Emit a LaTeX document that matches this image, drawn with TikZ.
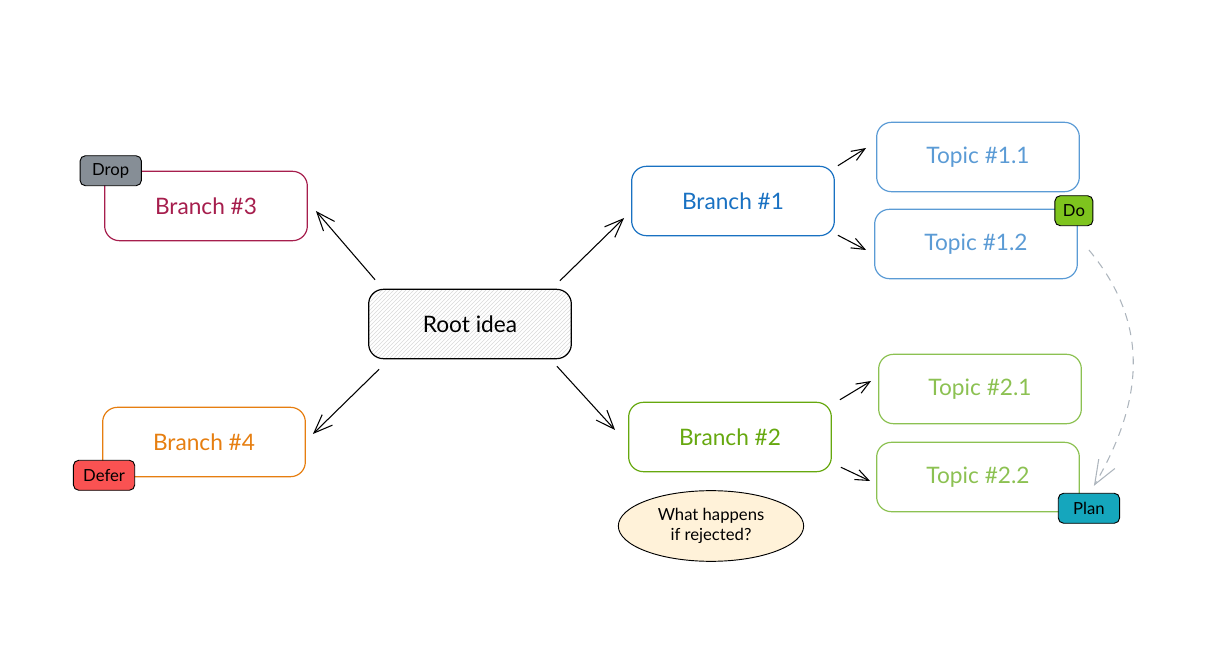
\documentclass[tikz,border=0pt]{standalone}
\usepackage{fontspec}
\setmainfont{Lato}
\usetikzlibrary{arrows.meta,patterns,shapes.geometric}
\definecolor{rama1}{HTML}{1971C2}
\definecolor{rama2}{HTML}{66A80F}
\definecolor{rama3}{HTML}{A61E4D}
\definecolor{rama4}{HTML}{E67E10}
\definecolor{tema1}{HTML}{5B9BD5}
\definecolor{tema2}{HTML}{8CC152}
\definecolor{gris}{HTML}{868E96}
\definecolor{rojo}{HTML}{FA5252}
\definecolor{verde}{HTML}{7EC41E}
\definecolor{turquesa}{HTML}{15A6BD}
\definecolor{crema}{HTML}{FFF2D9}
\definecolor{discont}{HTML}{ADB5BD}
\tikzset{
    caja/.style={draw=#1, text=#1, rounded corners=11pt, line width=0.9pt,
        minimum width=152pt, minimum height=52pt, font=\fontsize{17}{20}\selectfont},
    etiqueta/.style={draw=black, fill=#1, rounded corners=4pt, line width=0.7pt,
        minimum width=46pt, minimum height=22.5pt, inner sep=2pt,
        font=\fontsize{12.5}{14}\selectfont},
    flecha/.style={-{Straight Barb[length=14pt,width=11pt]}, line width=0.8pt},
    flechita/.style={-{Straight Barb[length=10pt,width=8pt]}, line width=0.8pt},
}
\begin{document}
\begin{tikzpicture}[x=0.75pt, y=-0.75pt]
    \useasboundingbox (0,0) rectangle (1232,648);
    % Idea central (rayada)
    \node[caja=black, pattern=north east lines, pattern color=gray!30] (root) at (470,324) {Root idea};
    % Ramas principales
    \node[caja=rama1] (b1) at (733,201) {Branch \#1};
    \node[caja=rama2] (b2) at (730,437) {Branch \#2};
    \node[caja=rama3] (b3) at (206,206) {Branch \#3};
    \node[caja=rama4] (b4) at (204,442) {Branch \#4};
    % Temas de cada rama
    \node[caja=tema1] (t11) at (978,157) {Topic \#1.1};
    \node[caja=tema1] (t12) at (976,244) {Topic \#1.2};
    \node[caja=tema2] (t21) at (980,389) {Topic \#2.1};
    \node[caja=tema2] (t22) at (978,477) {Topic \#2.2};
    % Etiquetas de estado
    \node[etiqueta=gris] (drop) at ([xshift=5]b3.north west) {Drop};
    \node[etiqueta=rojo] (defer) at ([shift={(2,-2)}]b4.south west) {Defer};
    \node[etiqueta=verde, minimum width=28.5pt] (do) at ([shift={(-4,2)}]t12.north east) {Do};
    \node[etiqueta=turquesa] (plan) at ([shift={(9,-4)}]t22.south east) {Plan};
    % Nota
    \node[ellipse, draw, fill=crema, line width=0.7pt, minimum width=139pt, minimum height=53pt,
        align=center, font=\fontsize{12.5}{15}\selectfont] (nota) at (711,526) {What happens\\if rejected?};
    % Flechas desde la idea central
    \draw[flecha] ([shift={(7,-9)}]root.north west) -- ([shift={(8,5)}]b3.east);
    \draw[flecha] ([shift={(-12,-8)}]root.north east) -- ([shift={(-7,17)}]b1.west);
    \draw[flecha] ([shift={(11,10)}]root.south west) -- ([shift={(7,-8)}]b4.east);
    \draw[flecha] ([shift={(-15,7)}]root.south east) -- ([shift={(-13,-7)}]b2.west);
    % Flechas hacia los temas
    \draw[flechita] ([shift={(3,0)}]b1.north east) -- ([shift={(-10,-9)}]t11.west);
    \draw[flechita] ([shift={(3,-1)}]b1.south east) -- ([shift={(-8,6)}]t12.west);
    \draw[flechita] ([shift={(8,-2)}]b2.north east) -- ([shift={(-7,-8)}]t21.west);
    \draw[flechita] ([shift={(9,-5)}]b2.south east) -- ([shift={(-6,4)}]t22.west);
    % Enlace discontinuo entre temas
    \draw[discont, line width=0.8pt, dash pattern=on 6pt off 5pt, -{Straight Barb[length=18pt,width=14pt]}]
        ([shift={(11,6)}]t12.east) .. controls (1147,320) and (1147,395) .. ([shift={(5,-7)}]plan.north);
\end{tikzpicture}
\end{document}
